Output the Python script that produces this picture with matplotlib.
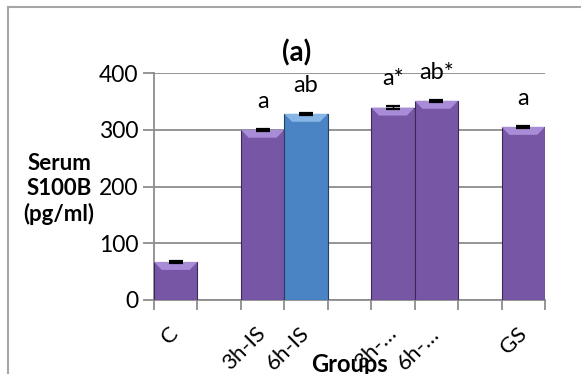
import matplotlib
matplotlib.use('Agg')
import matplotlib.pyplot as plt
from matplotlib.patches import Polygon
from matplotlib.lines import Line2D
import numpy as np

# data
groups = ['C', '', '3h-IS', '6h-IS', '', '3h-…', '6h-…', '', 'GS']
values = [67, 0, 300, 328, 0, 339, 351, 0, 305]
errors = [2, 0, 2, 2, 0, 2, 2, 0, 2]
letters = ['', '', 'a', 'ab', '', 'a*', 'ab*', '', 'a']
is_blue = [False, False, False, True, False, False, False, False, False]

plt.rcParams['font.family'] = ['Lato', 'DejaVu Sans']

purple, purple_top, purple_edge = '#7856a6', '#a88cd8', '#3a2858'
blue, blue_top, blue_edge = '#4a84c4', '#86b5e6', '#23405f'
grid_col = '#8c8c8c'

fig = plt.figure(figsize=(5.81, 3.74), dpi=100)
ax = fig.add_axes([154 / 581, 1 - 300 / 374, 391 / 581, 227 / 374])

x = np.arange(len(groups))
shown = [v > 0 for v in values]
xs = x[shown]
vals = np.array(values)[shown]
cols = [blue if b else purple for b, s in zip(is_blue, shown) if s]
edges = [blue_edge if b else purple_edge for b, s in zip(is_blue, shown) if s]
tops = [blue_top if b else purple_top for b, s in zip(is_blue, shown) if s]

bars = ax.bar(xs, vals, width=1.0, color=cols, edgecolor=edges, linewidth=0.8, zorder=3)

ax.set_ylim(0, 400)
ax.set_xlim(-0.5, len(groups) - 0.5)

# bevel: lighter top band on each bar, built from the bar's own geometry
bevel_h = 14
bevel_w = 0.18
for b, tc in zip(bars, tops):
    x0, w, h = b.get_x(), b.get_width(), b.get_height()
    poly = Polygon([(x0, h), (x0 + w, h), (x0 + w - bevel_w, h - bevel_h),
                    (x0 + bevel_w, h - bevel_h)], closed=True,
                   facecolor=tc, edgecolor='none', zorder=4)
    ax.add_patch(poly)

ax.errorbar(xs, vals, yerr=np.array(errors)[shown], fmt='none', ecolor='black',
            elinewidth=1.0, capsize=5, capthick=1.6, zorder=5)

for xi, v, lab in zip(x, values, letters):
    if lab:
        ax.text(xi, v + 32, lab, ha='center', va='bottom', fontsize=17, color='black', zorder=6)

# axes styling
ax.set_yticks([0, 100, 200, 300, 400])
ax.yaxis.grid(True, color=grid_col, linewidth=1.3, zorder=0)
ax.set_axisbelow(True)
for s in ['top', 'right']:
    ax.spines[s].set_visible(False)
for s in ['left', 'bottom']:
    ax.spines[s].set_color(grid_col)
    ax.spines[s].set_linewidth(1.3)
ax.tick_params(axis='y', colors=grid_col, length=8, width=1.3, labelsize=16.5, labelcolor='black', pad=3)

ax.set_xticks(np.arange(len(groups) + 1) - 0.5)
ax.set_xticklabels([])
ax.tick_params(axis='x', which='major', colors=grid_col, length=7, width=1.3)
ax.set_xticks(x, minor=True)
ax.set_xticklabels(groups, minor=True, rotation=45, ha='right', va='center',
                   rotation_mode='anchor', fontsize=16)
ax.tick_params(axis='x', which='minor', length=0, pad=22)

fig.text(297 / 581, 1 - 53 / 374, '(a)', ha='center', va='center', fontsize=20, fontweight='bold')
fig.text(59 / 581, 1 - 189 / 374, 'Serum\nS100B\n(pg/ml)', ha='center', va='center',
         fontsize=16, fontweight='bold', linespacing=1.2)
fig.text(349 / 581, 1 - 372 / 374, 'Groups', ha='center', va='baseline', fontsize=17, fontweight='bold')

# chart area border (cut by the image edges on right and bottom)
border = '#a6a6a6'
fig.add_artist(Line2D([8 / 581, 8 / 581], [0, 1 - 7 / 374], transform=fig.transFigure, color=border, lw=1.5))
fig.add_artist(Line2D([8 / 581, 1], [1 - 7 / 374, 1 - 7 / 374], transform=fig.transFigure, color=border, lw=1.5))

plt.savefig('out.png', dpi=100)
